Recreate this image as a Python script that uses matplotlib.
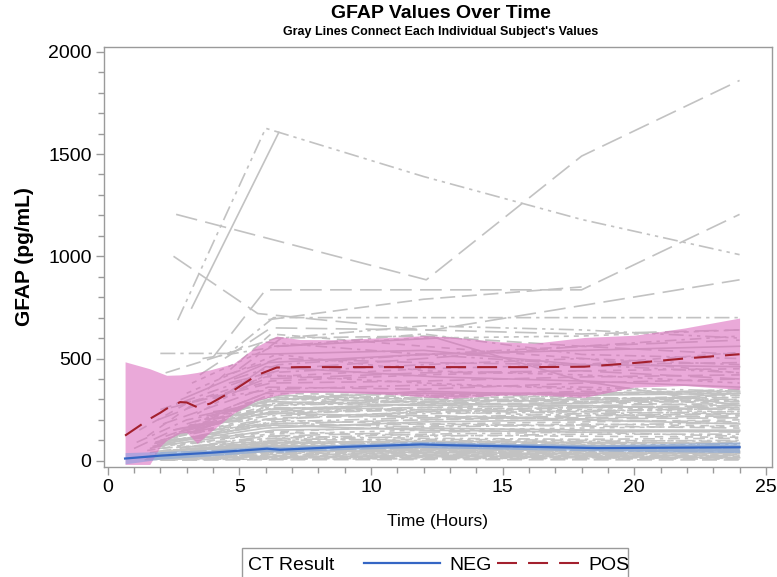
import matplotlib
matplotlib.use("Agg")
import matplotlib.pyplot as plt
from matplotlib.lines import Line2D
from matplotlib.patches import Rectangle

plt.rcParams['font.family'] = ['Liberation Sans', 'DejaVu Sans']

# ---------------- data ----------------
# prominent individual subjects (upper region)
upper_times = [
    [2.66, 6.0, 12, 18, 24],
    [3.19, 6.5],
    [2.6, 12.1, 18, 24],
    [2.5, 5.7, 12, 18, 24],
    [4.0, 6.0, 18, 24],
    [2.0, 4.6, 6.3, 24],
    [3.5, 6.2, 12.3, 24],
    [2.2, 6.4, 12, 18, 24],
    [6.5, 12.5, 18, 24],
    [6.1, 12, 18],
]
upper_values = [
    [688, 1626, 1390, 1180, 1008],
    [747, 1606],
    [1205, 885, 1490, 1860],
    [1000, 720, 640, 620, 640],
    [506, 836, 836, 1205],
    [525, 525, 700, 700],
    [420, 650, 639, 885],
    [430, 600, 610, 560, 520],
    [560, 600, 390, 270],
    [690, 790, 850],
]

# subjects inside the POS band region
mid_times = [
    [3.2, 6.3, 12, 18, 24], [2.8, 6.1, 12, 18, 24], [4.5, 6.5, 12, 18, 24],
    [2.0, 6.0, 12, 18, 24], [3.8, 6.2, 12, 18, 24], [5.0, 6.6, 12, 18, 24],
    [1.9, 6.0, 12, 18, 24], [3.0, 6.4, 12, 18, 24], [4.2, 6.0, 12.5, 18, 24],
    [2.4, 6.2, 12, 18, 24], [3.6, 6.5, 12, 18, 24], [1.2, 3.0, 6.0, 12, 18, 24],
    [2.6, 6.3, 12, 18, 24], [4.6, 6.8, 12, 18, 24], [3.4, 6.0, 12, 18, 24],
    [5.5, 12, 18, 24], [2.1, 6.1, 12, 18, 24], [6.0, 12, 18, 24],
    [1.5, 3.5, 6.2, 12, 18, 24], [4.8, 6.5, 12, 18, 24],
]
mid_values = [
    [380, 560, 600, 610, 640], [300, 480, 520, 540, 560], [420, 500, 480, 470, 480],
    [250, 430, 470, 500, 470], [350, 620, 560, 500, 430], [450, 600, 660, 640, 600],
    [200, 400, 430, 440, 400], [330, 520, 440, 420, 380], [300, 460, 410, 390, 360],
    [260, 380, 390, 410, 420], [500, 560, 620, 520, 500], [150, 280, 410, 450, 470, 530],
    [280, 350, 370, 360, 340], [380, 450, 500, 560, 590], [230, 420, 380, 350, 330],
    [520, 540, 470, 460], [180, 360, 350, 380, 400], [580, 520, 560, 610],
    [120, 300, 390, 420, 440, 450], [400, 470, 520, 470, 430],
]

# dense mass of subjects (roughly 100-350 pg/mL)
mass_times = [
    [1.8, 6.0, 12, 18, 24], [2.2, 6.2, 12, 18, 24], [2.5, 6.1, 12, 18, 24],
    [3.0, 6.4, 12, 18, 24], [1.6, 6.0, 12, 18, 24], [2.0, 6.3, 12, 18, 24],
    [3.5, 6.0, 12, 18, 24], [4.0, 6.5, 12, 18, 24], [2.8, 6.2, 12, 18, 24],
    [1.7, 6.1, 12, 18, 24], [2.3, 6.0, 12, 18, 24], [3.2, 6.3, 12, 18, 24],
    [4.5, 6.6, 12, 18, 24], [1.9, 6.0, 12, 18, 24], [2.6, 6.4, 12, 18, 24],
    [3.8, 6.1, 12, 18, 24], [1.5, 6.0, 12, 18, 24], [2.1, 6.2, 12, 18, 24],
    [2.9, 6.0, 12, 18, 24], [3.3, 6.5, 12, 18, 24], [1.8, 6.3, 12, 18, 24],
    [2.4, 6.0, 12, 18, 24], [4.2, 6.2, 12, 18, 24], [2.7, 6.1, 12, 18, 24],
    [3.6, 6.4, 12, 18, 24], [1.6, 6.0, 12, 18, 24], [2.0, 6.1, 12, 18, 24],
    [5.0, 6.5, 12, 18, 24], [3.0, 6.2, 12, 18, 24], [2.2, 6.3, 12, 18, 24],
    [4.4, 6.0, 12, 18, 24], [1.9, 6.1, 12, 18, 24], [3.4, 6.0, 12, 18, 24],
    [2.5, 6.4, 12, 18, 24], [4.8, 6.2, 12, 18, 24], [1.0, 2.5, 6.0, 12, 18, 24],
    [1.1, 3.0, 6.2, 12, 18, 24], [2.0, 6.0, 12, 18, 24], [3.1, 6.2, 12, 18, 24],
    [2.7, 6.1, 12, 18, 24], [4.1, 6.3, 12, 18, 24], [1.8, 6.0, 12, 18, 24],
    [3.7, 6.4, 12, 18, 24], [2.3, 6.0, 12, 18, 24], [5.2, 6.6, 12, 18, 24],
    [2.5, 6.2, 12, 18, 24], [3.9, 6.1, 12, 18, 24],
]
mass_values = [
    [90, 250, 280, 300, 310], [120, 300, 320, 330, 340], [150, 270, 300, 290, 300],
    [180, 310, 330, 310, 290], [60, 200, 240, 260, 270], [100, 230, 260, 250, 240],
    [220, 290, 270, 280, 330], [240, 280, 310, 340, 320], [160, 220, 230, 240, 260],
    [70, 180, 200, 210, 220], [110, 260, 250, 230, 210], [170, 240, 280, 270, 250],
    [230, 260, 240, 220, 230], [80, 160, 190, 200, 180], [130, 210, 220, 200, 190],
    [200, 320, 300, 320, 350], [50, 140, 170, 180, 170], [90, 190, 210, 230, 240],
    [150, 250, 260, 270, 280], [190, 300, 290, 300, 310], [70, 150, 160, 150, 150],
    [100, 170, 180, 170, 160], [210, 240, 250, 260, 270], [120, 200, 180, 190, 200],
    [180, 270, 290, 310, 300], [40, 120, 140, 150, 140], [70, 130, 150, 160, 170],
    [260, 300, 340, 320, 330], [140, 180, 200, 220, 230], [80, 110, 130, 140, 120],
    [250, 330, 320, 300, 280], [60, 100, 120, 130, 130], [160, 230, 220, 210, 220],
    [110, 280, 270, 260, 250], [270, 340, 330, 330, 340], [60, 150, 230, 250, 240, 230],
    [90, 200, 280, 290, 300, 320], [95, 140, 125, 120, 115], [175, 205, 240, 245, 255],
    [140, 235, 210, 205, 210], [230, 300, 310, 290, 295], [85, 175, 150, 140, 145],
    [200, 255, 275, 285, 290], [105, 120, 110, 105, 110], [280, 320, 300, 285, 270],
    [125, 185, 165, 175, 185], [215, 310, 285, 265, 260],
]

# low subjects (0-100 pg/mL)
low_times = [
    [1.5, 6.0, 12, 18, 24], [1.7, 6.1, 12, 18, 24], [2.0, 6.2, 12, 18, 24],
    [1.6, 6.0, 12, 18, 24], [2.2, 6.3, 12, 18, 24], [1.8, 6.0, 12, 18, 24],
    [2.4, 6.1, 12, 18, 24], [1.9, 6.2, 12, 18, 24], [2.1, 6.0, 12, 18, 24],
    [2.6, 6.4, 12, 18, 24], [1.4, 6.0, 12, 18, 24], [2.3, 6.1, 12, 18, 24],
    [2.8, 6.2, 12, 18, 24], [1.7, 6.3, 12, 18, 24], [3.0, 6.0, 12, 18, 24],
    [2.0, 6.1, 12, 18, 24], [2.5, 6.2, 12, 18, 24], [1.8, 6.0, 12, 18, 24],
    [3.2, 6.4, 12, 18, 24], [2.2, 6.0, 12, 18, 24], [2.7, 6.1, 12, 18, 24],
    [1.6, 6.2, 12, 18, 24], [2.0, 6.0, 12, 18, 24], [1.6, 6.1, 12, 18, 24],
    [2.4, 6.2, 12, 18, 24], [2.9, 6.3, 12, 18, 24], [1.8, 6.0, 12, 18, 24],
    [2.1, 6.1, 12, 18, 24], [3.4, 6.2, 12, 18, 24], [2.6, 6.0, 12, 18, 24],
    [1.9, 6.4, 12, 18, 24], [2.3, 6.0, 12, 18, 24], [3.6, 6.1, 12, 18, 24],
    [2.0, 6.2, 12, 18, 24], [1.7, 6.0, 12, 18, 24], [2.8, 6.3, 12, 18, 24],
]
low_values = [
    [10, 20, 25, 20, 15], [15, 30, 35, 30, 25], [20, 40, 45, 40, 35],
    [25, 50, 55, 50, 45], [30, 60, 65, 60, 55], [35, 70, 75, 70, 65],
    [40, 80, 85, 80, 75], [45, 90, 95, 90, 85], [5, 10, 12, 10, 8],
    [50, 100, 105, 100, 95], [5, 15, 18, 15, 12], [25, 35, 40, 45, 42],
    [45, 55, 60, 58, 50], [20, 28, 30, 32, 30], [60, 75, 70, 72, 68],
    [10, 45, 50, 52, 60], [30, 65, 58, 62, 70], [8, 25, 22, 25, 28],
    [70, 85, 90, 88, 80], [15, 18, 20, 22, 20], [35, 42, 48, 44, 40],
    [12, 52, 40, 35, 38], [3, 5, 6, 5, 4], [18, 22, 15, 18, 14],
    [22, 38, 32, 28, 26], [40, 48, 52, 55, 48], [28, 62, 55, 50, 52],
    [50, 78, 68, 65, 62], [55, 68, 80, 76, 72], [65, 95, 88, 84, 90],
    [9, 12, 28, 26, 22], [35, 55, 48, 42, 35], [75, 110, 98, 95, 100],
    [40, 88, 78, 70, 58], [6, 8, 10, 14, 16], [52, 72, 62, 58, 46],
]

# POS group mean and 95% band
pos_t = [0.66, 1.6, 2.0, 2.24, 2.75, 3.0, 3.4, 3.9, 4.78, 5.66, 6.42, 7.3, 8.6,
         11.1, 12.0, 13.0, 14.9, 16.2, 18.1, 20.0, 21.9, 24.0]
pos_mean = [123, 205, 235, 255, 287, 285, 262, 280, 344, 418, 456, 458, 458,
            458, 458, 458, 458, 458, 460, 478, 500, 521]
pos_lower = [-18, -18, 70, 100, 135, 138, 85, 140, 232, 295, 320, 333, 336,
             322, 312, 305, 320, 322, 310, 360, 368, 349]
pos_upper = [484, 450, 430, 418, 420, 424, 432, 445, 476, 560, 610, 593, 592,
             605, 612, 606, 582, 575, 603, 614, 649, 698]

# NEG group mean and 95% band
neg_t = [0.66, 2.0, 4.0, 6.05, 6.55, 9.0, 11.9, 13.0, 15.0, 18.6, 24.0]
neg_mean = [11, 25, 40, 59, 54, 68, 80, 76, 71, 62, 66]
neg_lower = [-15, 8, 25, 45, 42, 55, 65, 62, 57, 48, 40]
neg_upper = [40, 45, 55, 72, 68, 82, 95, 92, 86, 78, 92]

x_ticks = [0, 5, 10, 15, 20, 25]
y_ticks = [0, 500, 1000, 1500, 2000]

# ---------------- styles ----------------
GRAY = '#C2C2C2'
patterns = ['-', (0, (9, 4)), (0, (7, 3, 2, 3)), (0, (5, 4)),
            (0, (9, 3, 2, 3, 2, 3)), (0, (13, 5)), (0, (3, 3))]
upper_styles = [(0, (9, 3, 2, 3, 2, 3)), '-', (0, (13, 5)), (0, (13, 5)),
                (0, (13, 5)), (0, (9, 3, 2, 3)), (0, (13, 5)), (0, (9, 4)),
                '-', (0, (9, 4))]
red_dash = (0, (9.6, 5.3))

W, H = 777, 577
fig = plt.figure(figsize=(W / 100, H / 100), dpi=100)
ax = fig.add_axes([104 / W, 1 - 466.7 / H, (771.7 - 104) / W, (466.7 - 46.7) / H])

lw_g = 1.2
k = 0
for ts, vs in zip(low_times + mass_times + mid_times, low_values + mass_values + mid_values):
    ax.plot(ts, vs, color=GRAY, lw=lw_g, linestyle=patterns[k % len(patterns)], zorder=1)
    k += 1
for ts, vs, st in zip(upper_times, upper_values, upper_styles):
    ax.plot(ts, vs, color=GRAY, lw=lw_g, linestyle=st, zorder=1)

ax.fill_between(pos_t, pos_lower, pos_upper, color='#DC6CBE', alpha=0.58, lw=0, zorder=2)
ax.fill_between(neg_t, neg_lower, neg_upper, color='#6E9BE0', alpha=0.45, lw=0, zorder=2)

blue = '#3566C4'
red = '#A3202E'
ax.plot(neg_t, neg_mean, color=blue, lw=1.6, zorder=3)
ax.plot(pos_t, pos_mean, color=red, lw=1.5, linestyle=red_dash, zorder=3)

ax.set_xlim(-0.14, 25.22)
ax.set_ylim(-29, 2025)
ax.set_xticks(x_ticks)
ax.set_yticks(y_ticks)
ax.set_xticks(range(0, 26), minor=True)
ax.set_yticks(range(0, 2001, 100), minor=True)

spine_c = '#9A9A9A'
for s in ax.spines.values():
    s.set_color(spine_c)
    s.set_linewidth(1.0)
ax.tick_params(which='major', length=6, color=spine_c, width=1, labelsize=14, pad=3)
ax.tick_params(which='minor', length=4, color=spine_c, width=1)

ax.set_xlabel('Time (Hours)', fontsize=12.5, labelpad=13)
ax.set_ylabel('GFAP (pg/mL)', fontsize=15, fontweight='bold', labelpad=10)

fig.text(441 / W, 1 - 13 / H, 'GFAP Values Over Time', ha='center', va='center',
         fontsize=14, fontweight='bold')
fig.text(441 / W, 1 - 32 / H, "Gray Lines Connect Each Individual Subject's Values",
         ha='center', va='center', fontsize=9, fontweight='bold')

# legend (drawn in figure coordinates)
fig.patches.append(Rectangle((242 / W, -0.03), (628 - 242) / W, 0.03 + 1 - 548 / H,
                             transform=fig.transFigure, fill=False,
                             edgecolor=spine_c, lw=1.0))
yb = 1 - 570 / H
yl = 1 - 563 / H
fig.text(248 / W, yb, 'CT Result', fontsize=14, va='baseline', ha='left')
fig.lines.append(Line2D([364 / W, 440 / W], [yl, yl], transform=fig.transFigure,
                        color=blue, lw=1.6))
fig.text(449 / W, yb, 'NEG', fontsize=14, va='baseline', ha='left')
fig.lines.append(Line2D([497 / W, 579 / W], [yl, yl], transform=fig.transFigure,
                        color=red, lw=1.5, linestyle=red_dash))
fig.text(588 / W, yb, 'POS', fontsize=14, va='baseline', ha='left')

fig.savefig('out.png', dpi=100)
